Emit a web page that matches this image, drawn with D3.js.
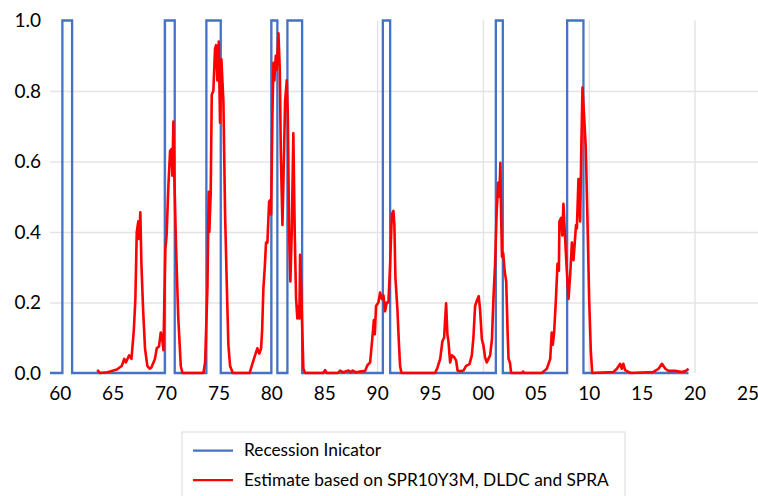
<!DOCTYPE html>
<html>
<head>
<meta charset="utf-8">
<script src="https://cdn.jsdelivr.net/npm/d3@7"></script>
<style>
  body { margin: 0; background: #fff; }
  text { font-family: Lato, "Open Sans", sans-serif; fill: #000; }
</style>
</head>
<body>
<div id="chart"></div>
<script>
// recession periods (decimal years, start / end of indicator = 1)
var recStart = [1960.25, 1969.93, 1973.86, 1980.0, 1981.52, 1990.54, 2001.22, 2007.96];
var recEnd   = [1961.17, 1970.87, 1975.22, 1980.57, 1982.91, 1991.23, 2001.88, 2009.5];
var recFirst = 1959.08, recLast = 2019.43;

// estimated probability [year, value]
var estimate = [
  [1963.55,0.009],[1963.8,0.0],[1964.5,0.002],[1964.76,0.004],[1965.4,0.01],[1965.86,0.02],[1966.1,0.04],
  [1966.25,0.03],[1966.56,0.05],[1966.78,0.04],[1967.0,0.12],[1967.15,0.21],[1967.28,0.40],[1967.43,0.43],
  [1967.5,0.38],[1967.62,0.456],[1967.72,0.31],[1967.88,0.18],[1968.06,0.07],[1968.28,0.02],[1968.5,0.012],
  [1968.65,0.015],[1969.0,0.04],[1969.17,0.07],[1969.38,0.075],[1969.55,0.115],[1969.68,0.10],[1969.8,0.065],
  [1969.98,0.35],[1970.1,0.39],[1970.27,0.53],[1970.43,0.63],[1970.55,0.635],[1970.65,0.56],[1970.74,0.713],
  [1970.83,0.56],[1971.0,0.35],[1971.2,0.16],[1971.44,0.02],[1971.6,0.0],[1973.58,0.0],[1973.74,0.03],
  [1973.96,0.24],[1974.08,0.514],[1974.14,0.40],[1974.27,0.51],[1974.37,0.79],[1974.52,0.80],[1974.68,0.92],
  [1974.78,0.93],[1974.9,0.83],[1975.03,0.94],[1975.15,0.71],[1975.28,0.89],[1975.47,0.77],[1975.63,0.45],
  [1975.79,0.25],[1975.94,0.08],[1976.1,0.02],[1976.36,0.0],[1977.95,0.0],[1978.15,0.02],[1978.46,0.05],
  [1978.68,0.07],[1978.87,0.055],[1979.03,0.07],[1979.13,0.12],[1979.25,0.24],[1979.38,0.30],[1979.5,0.37],
  [1979.63,0.37],[1979.79,0.486],[1979.88,0.49],[1979.98,0.45],[1980.1,0.73],[1980.2,0.88],[1980.29,0.83],
  [1980.42,0.90],[1980.51,0.86],[1980.67,0.964],[1980.8,0.86],[1980.9,0.62],[1981.05,0.42],[1981.14,0.54],
  [1981.3,0.77],[1981.46,0.83],[1981.56,0.73],[1981.68,0.40],[1981.8,0.26],[1981.93,0.40],[1982.08,0.68],
  [1982.21,0.40],[1982.34,0.21],[1982.46,0.155],[1982.56,0.19],[1982.65,0.155],[1982.72,0.335],[1982.81,0.26],
  [1982.9,0.15],[1983.03,0.012],[1983.2,0.0],[1984.9,0.0],[1985.08,0.008],[1985.25,0.0],[1986.3,0.0],
  [1986.5,0.007],[1986.8,0.002],[1987.3,0.007],[1987.5,0.002],[1987.7,0.007],[1988.0,0.002],[1988.4,0.004],
  [1988.87,0.006],[1989.08,0.022],[1989.34,0.03],[1989.55,0.10],[1989.69,0.15],[1989.78,0.11],[1989.9,0.19],
  [1990.12,0.20],[1990.28,0.228],[1990.44,0.21],[1990.6,0.22],[1990.75,0.175],[1990.91,0.20],[1991.07,0.20],
  [1991.23,0.31],[1991.39,0.45],[1991.54,0.46],[1991.63,0.42],[1991.73,0.27],[1991.92,0.18],[1992.05,0.09],
  [1992.17,0.02],[1992.3,0.0],[1995.48,0.0],[1995.7,0.015],[1995.96,0.04],[1996.17,0.09],[1996.33,0.10],
  [1996.52,0.198],[1996.64,0.11],[1996.74,0.09],[1996.9,0.03],[1997.06,0.05],[1997.28,0.045],[1997.47,0.035],
  [1997.6,0.007],[1997.85,0.005],[1998.16,0.007],[1998.41,0.02],[1998.73,0.025],[1998.95,0.05],[1999.1,0.10],
  [1999.26,0.19],[1999.42,0.205],[1999.6,0.218],[1999.73,0.18],[1999.9,0.095],[2000.04,0.08],[2000.2,0.045],
  [2000.36,0.03],[2000.52,0.04],[2000.68,0.05],[2000.85,0.095],[2001.0,0.216],[2001.15,0.31],[2001.3,0.46],
  [2001.45,0.54],[2001.55,0.50],[2001.65,0.596],[2001.72,0.45],[2001.8,0.33],[2001.92,0.34],[2002.05,0.29],
  [2002.2,0.26],[2002.33,0.12],[2002.42,0.04],[2002.55,0.03],[2002.67,0.0],[2003.7,0.0],[2003.8,0.004],
  [2003.9,0.0],[2005.56,0.0],[2006.04,0.012],[2006.36,0.04],[2006.5,0.115],[2006.6,0.08],[2006.73,0.115],
  [2006.9,0.21],[2007.05,0.31],[2007.18,0.29],[2007.23,0.43],[2007.4,0.44],[2007.5,0.39],[2007.61,0.48],
  [2007.77,0.38],[2007.93,0.29],[2008.09,0.21],[2008.25,0.28],[2008.41,0.37],[2008.56,0.32],[2008.8,0.42],
  [2008.88,0.41],[2009.03,0.55],[2009.19,0.43],[2009.3,0.64],[2009.41,0.81],[2009.56,0.73],[2009.72,0.64],
  [2009.87,0.45],[2010.04,0.21],[2010.2,0.06],[2010.33,0.0],[2012.34,0.003],[2012.66,0.012],[2012.97,0.026],
  [2013.12,0.012],[2013.27,0.026],[2013.44,0.008],[2013.75,0.003],[2014.0,0.0],[2016.12,0.003],[2016.6,0.012],
  [2016.92,0.026],[2017.24,0.012],[2017.54,0.006],[2018.17,0.006],[2018.8,0.003],[2019.2,0.006],[2019.43,0.012]
];

var xTickYears = [1960, 1965, 1970, 1975, 1980, 1985, 1990, 1995, 2000, 2005, 2010, 2015, 2020, 2025];
var xTickLabels = ["60", "65", "70", "75", "80", "85", "90", "95", "00", "05", "10", "15", "20", "25"];
var xGridYears = [1970, 1980, 1990, 2000, 2010, 2020];
var yTicks = [0, 0.2, 0.4, 0.6, 0.8, 1.0];
var yGrid = [0.2, 0.4, 0.6, 0.8];

var seriesNames = ["Recession Inicator", "Estimate based on SPR10Y3M, DLDC and SPRA"];
var colBlue = "#4472C4", colRed = "#FF0000";

(function(){
  var W = 758, H = 496;
  var svg = d3.select("#chart").append("svg")
    .attr("width", W).attr("height", H);

  var x = d3.scaleLinear().domain([1959.08, 2026.0]).range([50, 758]);
  var y = d3.scaleLinear().domain([0, 1]).range([373, 20.5]);

  // gridlines
  svg.append("g")
    .attr("transform", "translate(50,0)")
    .call(d3.axisLeft(y).tickValues(yGrid).tickSize(-708).tickFormat(""))
    .call(function(g){ g.select(".domain").remove(); })
    .selectAll("line").attr("stroke", "#e4e4e4").attr("stroke-width", 1.5);

  svg.append("g")
    .attr("transform", "translate(0,373)")
    .call(d3.axisBottom(x).tickValues(xGridYears).tickSize(-352.5).tickFormat(""))
    .call(function(g){ g.select(".domain").remove(); })
    .selectAll("line").attr("stroke", "#e4e4e4").attr("stroke-width", 1.5);

  // y labels
  var yAx = svg.append("g")
    .attr("transform", "translate(50,0)")
    .call(d3.axisLeft(y).tickValues(yTicks).tickSize(0).tickPadding(9).tickFormat(d3.format(".1f")));
  yAx.select(".domain").remove();
  yAx.selectAll("text").style("font-size", "19px").attr("fill", "#000");

  // x labels
  var xAx = svg.append("g")
    .attr("transform", "translate(0,373)")
    .call(d3.axisBottom(x).tickValues(xTickYears).tickSize(0)
      .tickFormat(function(d, i){ return xTickLabels[i]; }));
  xAx.select(".domain").remove();
  xAx.selectAll("text").style("font-size", "19px").attr("fill", "#000")
    .attr("y", 27).attr("dy", null);

  // recession indicator as a step line
  var rec = [[recFirst, 0]];
  recStart.forEach(function(s, i){
    rec.push([s, 0], [s, 1], [recEnd[i], 1], [recEnd[i], 0]);
  });
  rec.push([recLast, 0]);

  var line = d3.line()
    .x(function(d){ return x(d[0]); })
    .y(function(d){ return y(d[1]); });

  svg.append("path")
    .datum(rec)
    .attr("fill", "none")
    .attr("stroke", colBlue)
    .attr("stroke-width", 2.3)
    .attr("d", line);

  svg.append("path")
    .datum(estimate)
    .attr("fill", "none")
    .attr("stroke", colRed)
    .attr("stroke-width", 2.6)
    .attr("stroke-linejoin", "round")
    .attr("d", line);

  // legend
  var lg = svg.append("g");
  lg.append("rect")
    .attr("x", 182).attr("y", 432).attr("width", 443).attr("height", 80)
    .attr("fill", "#fff").attr("stroke", "#d9d9d9").attr("stroke-width", 1);
  [colBlue, colRed].forEach(function(c, i){
    var yy = 450.7 + i * 29.5;
    lg.append("line").attr("x1", 193).attr("x2", 233).attr("y1", yy).attr("y2", yy)
      .attr("stroke", c).attr("stroke-width", 2.3);
    lg.append("text").attr("x", 244).attr("y", yy + 5.5)
      .style("font-size", "17.3px").text(seriesNames[i]);
  });
})();
</script>
</body>
</html>
